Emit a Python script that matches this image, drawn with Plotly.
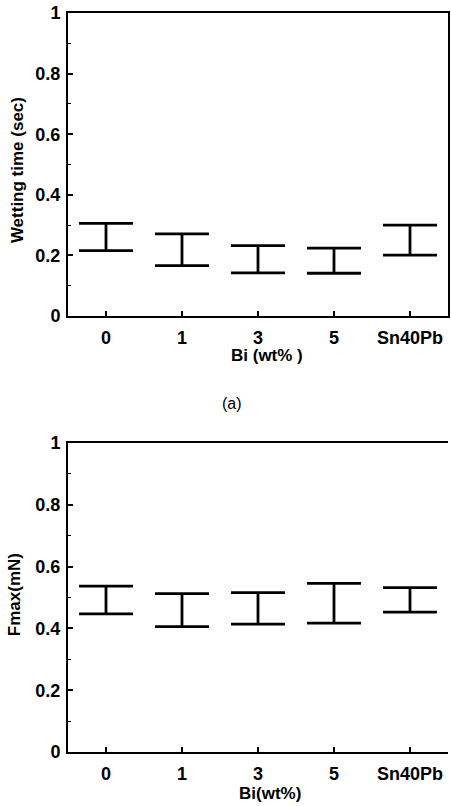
import plotly.graph_objects as go
from plotly.subplots import make_subplots

categories = ["0", "1", "3", "5", "Sn40Pb"]
wet_low = [0.216, 0.166, 0.142, 0.141, 0.201]
wet_high = [0.306, 0.271, 0.232, 0.224, 0.300]
fmax_low = [0.447, 0.406, 0.414, 0.417, 0.453]
fmax_high = [0.537, 0.513, 0.516, 0.546, 0.532]
y_ticks = [0, 0.2, 0.4, 0.6, 0.8, 1]
y_ticklabels = ["0", "0.2", "0.4", "0.6", "0.8", "1"]

FONT = "Liberation Sans, Arial, sans-serif"

fig = make_subplots(rows=2, cols=1, vertical_spacing=0.17)
fig.update_layout(yaxis_domain=[0.59, 1.0], yaxis2_domain=[0.0, 0.418])


def add_range(lo, hi, row):
    mid = [(a + b) / 2 for a, b in zip(lo, hi)]
    half = [(b - a) / 2 for a, b in zip(lo, hi)]
    fig.add_trace(go.Scatter(
        x=categories, y=mid, mode="markers",
        marker=dict(size=1, color="rgba(0,0,0,0)"),
        error_y=dict(type="data", array=half, symmetric=True,
                     color="black", thickness=2.8, width=27),
        showlegend=False, hoverinfo="skip"), row=row, col=1)


add_range(wet_low, wet_high, 1)
add_range(fmax_low, fmax_high, 2)

axis_common = dict(showline=True, linecolor="black", linewidth=2,
                   showgrid=False, zeroline=False, automargin=False,
                   tickfont=dict(family=FONT, size=18, color="black", weight="bold"),
                   ticks="inside", ticklen=5, tickcolor="black", tickwidth=1.5)

for r, mirror_y in [(1, True), (2, False)]:
    fig.update_xaxes(type="category", range=[-0.5, 4.5], mirror=True,
                     ticklabelstandoff=4, row=r, col=1, **axis_common)
    fig.update_yaxes(range=[0, 1], tickvals=y_ticks, ticktext=y_ticklabels,
                     mirror=mirror_y, ticklabelstandoff=2,
                     minor=dict(dtick=0.1, ticks="inside", ticklen=3,
                                tickcolor="black", tickwidth=1),
                     row=r, col=1, **axis_common)

title_font = dict(family=FONT, size=17, color="black", weight="bold")


def add_title(text, x, y, angle=0, font=title_font):
    fig.add_annotation(text=text, xref="paper", yref="paper", x=x, y=y,
                       xanchor="center", yanchor="middle", textangle=angle,
                       showarrow=False, font=font)


add_title("Bi (wt% )", 0.524, 0.537)
add_title("Bi(wt%)", 0.532, -0.0555)
add_title("Wetting time (sec)", -0.134, 0.7875, angle=-90)
add_title("Fmax(mN)", -0.139, 0.2125, angle=-90)
add_title("(a)", 0.432, 0.472, font=dict(family=FONT, size=16, color="black"))

fig.update_layout(width=451, height=806, plot_bgcolor="white", paper_bgcolor="white",
                  margin=dict(l=68, r=3, t=13, b=54))

# remove the default page margin so the figure fills the window exactly
fig.write_html("out.html",
               config={"displayModeBar": False},
               post_script="document.body.style.margin='0';"
                           "document.body.style.overflow='hidden';")
